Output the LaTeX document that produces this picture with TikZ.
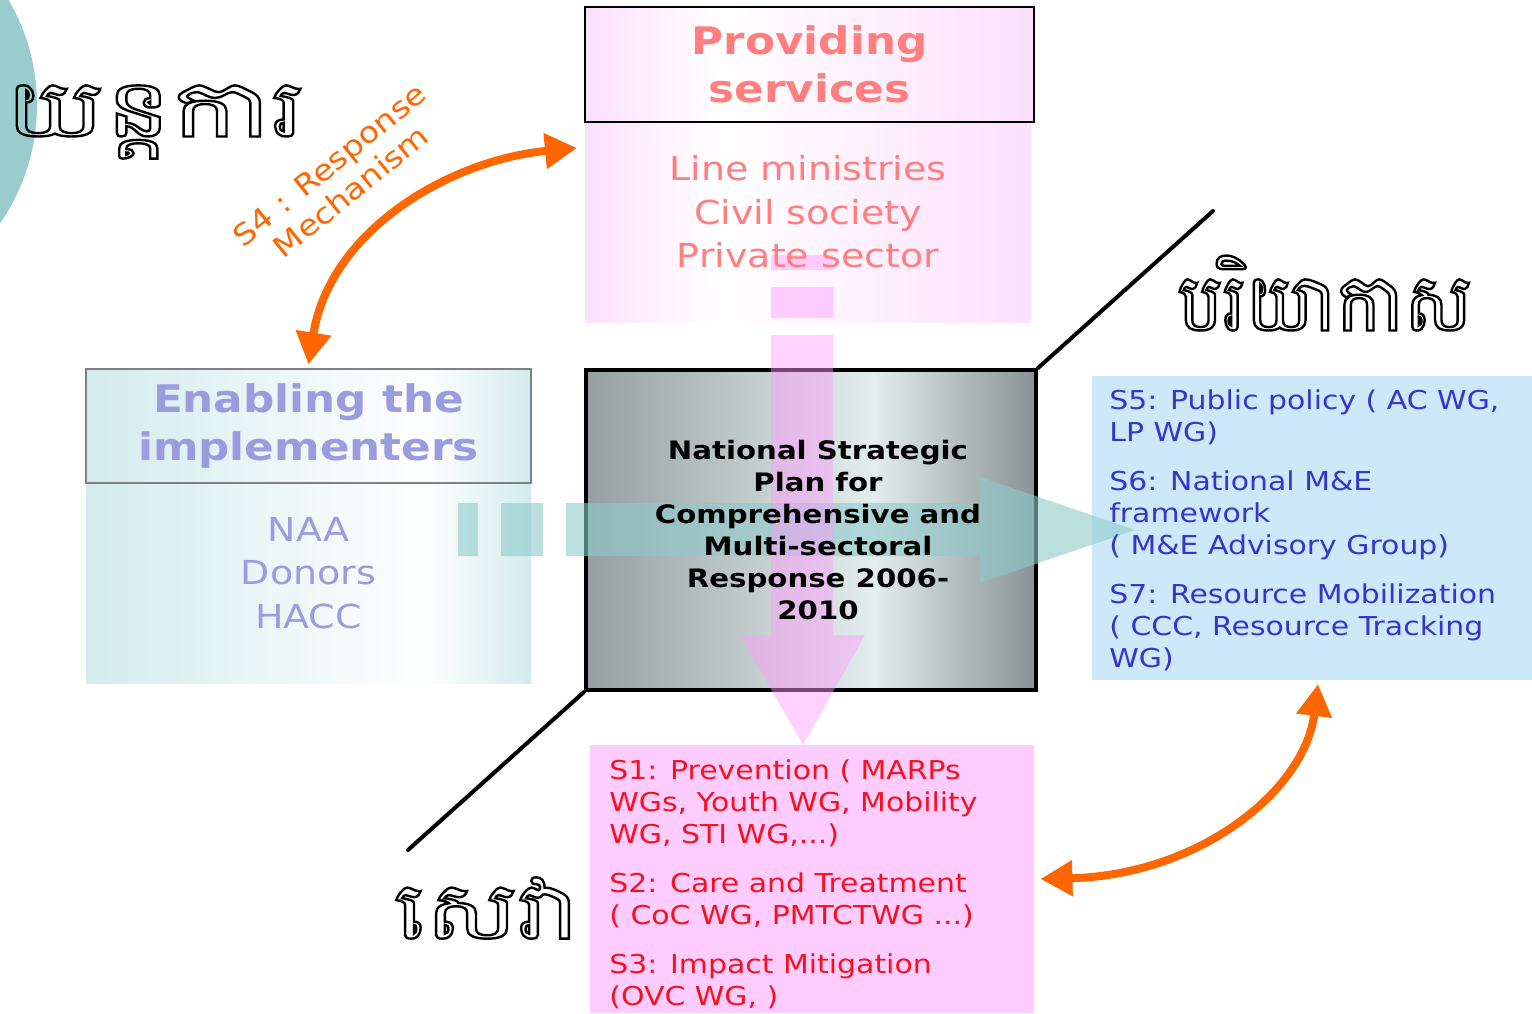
\documentclass[tikz,border=0pt]{standalone}
\usepackage{fontspec}
\setmainfont[FakeStretch=1.15]{DejaVu Sans}
\newfontfamily\khmerfont[Script=Khmer]{Battambang}
\usetikzlibrary{fit,positioning,arrows.meta}

\definecolor{ringteal}{HTML}{99CCCC}
\definecolor{svcpink}{HTML}{FCE0FC}
\definecolor{svcred}{HTML}{FF7F7F}
\definecolor{enateal}{HTML}{D3EBEC}
\definecolor{enablue}{HTML}{9B9BE0}
\definecolor{nspgrey}{HTML}{969F9F}
\definecolor{nsplight}{HTML}{E4EDED}
\definecolor{nspdark}{HTML}{889292}
\definecolor{envblue}{HTML}{CCE9FA}
\definecolor{envtext}{HTML}{3535CC}
\definecolor{outpink}{HTML}{FFCCFF}
\definecolor{outred}{HTML}{F5121E}
\definecolor{mechorange}{HTML}{FF6600}
\definecolor{flowteal}{HTML}{8FCACA}
\definecolor{flowpink}{HTML}{FF99FF}

\pgfdeclarehorizontalshading{svcshading}{100bp}{color(0bp)=(svcpink); color(25bp)=(svcpink); color(40bp)=(white); color(75bp)=(svcpink); color(100bp)=(svcpink)}
\pgfdeclarehorizontalshading{enashading}{100bp}{color(0bp)=(enateal); color(25bp)=(enateal); color(63bp)=(white); color(75bp)=(enateal); color(100bp)=(enateal)}
\pgfdeclarehorizontalshading{nspshading}{100bp}{color(0bp)=(nspgrey); color(25bp)=(nspgrey); color(57bp)=(nsplight); color(75bp)=(nspdark); color(100bp)=(nspdark)}

\newcommand{\khout}[2]{{\khmerfont\addfontfeature{FakeStretch=#1}\special{pdf:literal direct 1 Tr 1.2 w}#2\special{pdf:literal direct 0 Tr}}}

\begin{document}
\begin{tikzpicture}[x=0.5pt, y=-0.5pt,
    box/.style={inner sep=0pt},
    title/.style={font=\bfseries\fontsize{19}{24}\selectfont, align=center},
    sub/.style={font=\fontsize{16.5}{21.75}\selectfont, align=center},
    list/.style={font=\fontsize{13}{16}\selectfont, align=left, anchor=north west, inner sep=0pt},
    khmer/.style={font=\fontsize{40}{40}\selectfont, inner sep=0pt},
    mech/.style={draw=mechorange, line width=4pt, {Triangle[length=16pt,width=17pt]}-{Triangle[length=16pt,width=17pt]}},
    sector/.style={line width=2pt, line cap=round}]
    \useasboundingbox (0,0) rectangle (1532,1013);
    \fill[white] (0,0) rectangle (1532,1013);
    \fill[ringteal] (-171,105) circle (208);

    \node[box, shading=svcshading, fit={(585,122) (1031,322)}] (svcbody) {};
    \node[box, shading=svcshading, draw=black, line width=0.6pt, fit={(585,7) (1034,122)}] (svchead) {};
    \node[box, shading=enashading, fit={(86,483) (531,683)}] (enabody) {};
    \node[box, shading=enashading, draw=gray, line width=0.6pt, fit={(86,369) (531,483)}] (enahead) {};
    \node[box, shading=nspshading, draw=black, line width=2pt, fit={(586,370) (1036,690)}] (nsp) {};
    \node[box, fill=envblue, fit={(1092,376) (1532,680)}] (env) {};
    \node[box, fill=outpink, fit={(590,745) (1034,1013)}] (out) {};

    \coordinate (envcorner) at (1213,211);
    \coordinate (svccorner) at (408,850);
    \draw[sector] (nsp.north east) -- (envcorner);
    \draw[sector] (nsp.south west) -- (svccorner);

    % block arrows
    \fill[flowteal, fill opacity=0.6] (458,503) rectangle (478,556) (501,503) rectangle (543,556)
      (566,503) -- (980,503) -- (980,477) -- (1135,530) -- (980,583) -- (980,556) -- (566,556) -- cycle;
    \fill[flowpink, fill opacity=0.45] (771,255) rectangle (833,270) (771,287) rectangle (833,318)
      (771,335) -- (833,335) -- (833,635) -- (865,635) -- (803,745) -- (740,635) -- (771,635) -- cycle;

    \coordinate (mechtop) at (577,148);
    \coordinate (envtip) at (1318,684);
    \draw[mech] ([yshift=2pt]enahead.north) .. controls (330,230) and (450,160) .. (mechtop);
    \draw[mech] ([xshift=3pt]out.east) .. controls (1200,875) and (1305,790) .. (envtip);

    \node[title, text=svcred] (svctitle) at (svchead) {Providing\\services};
    \node[sub, text=svcred] (svclist) at ([yshift=5pt]svcbody.center) {Line ministries\\Civil society\\Private sector};
    \node[title, text=enablue] (enatitle) at (enahead) {Enabling the\\implementers};
    \node[sub, text=enablue] (enalist) at ([yshift=5pt]enabody.center) {NAA\\Donors\\HACC};
    \node[font=\bfseries\fontsize{12.7}{16}\selectfont, align=center] (nsptext) at ([xshift=3.5pt]nsp.center)
      {National Strategic\\Plan for\\Comprehensive and\\Multi-sectoral\\Response 2006-\\2010};
    \node[list, text=envtext] (envlist) at (1109,389) {S5: Public policy ( AC WG,\\LP WG)\\[8.5pt]
      S6: National M\&E\\framework\\( M\&E Advisory Group)\\[8.5pt]
      S7: Resource Mobilization\\( CCC, Resource Tracking\\WG)};
    \node[list, text=outred] (outlist) at (609,759) {S1: Prevention ( MARPs\\WGs, Youth WG, Mobility\\WG, STI WG,...)\\[8.5pt]
      S2: Care and Treatment\\( CoC WG, PMTCTWG ...)\\[8.5pt]
      S3: Impact Mitigation\\(OVC WG, )};
    \node[font=\fontsize{14.5}{17}\selectfont, text=mechorange, rotate=39, align=center] (mechlabel) at (340,178)
      {S4 : Response\\Mechanism};

    \node[khmer] (mechword) at (155,122) {\khout{1.4}{យន្តការ}};
    \node[khmer] (envword) at (1325,293) {\khout{0.95}{បរិយាកាស}};
    \node[khmer] (svcword) at (487,908) {\khout{1.3}{សេវា}};
\end{tikzpicture}
\end{document}
